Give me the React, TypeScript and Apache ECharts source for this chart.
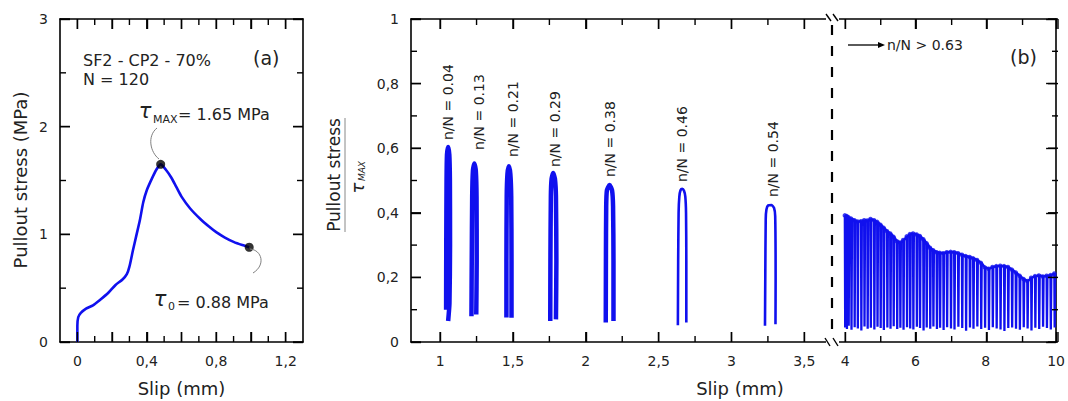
import { useEffect, useRef } from 'react';
import * as echarts from 'echarts';

const BLUE = '#1010ee';
const FONT = 'DejaVu Sans';
const INK = '#222';

// ---------- Panel (a): monotonic pull-out curve ----------
const monoSlip = [0, 0, 0.005, 0.02, 0.05, 0.09, 0.13, 0.18, 0.22, 0.26, 0.285, 0.3, 0.32, 0.34, 0.36, 0.38, 0.4, 0.43, 0.455, 0.48, 0.51, 0.54, 0.57, 0.6, 0.65, 0.71, 0.76, 0.8, 0.85, 0.9, 0.95, 0.99];
const monoStress = [0, 0.15, 0.23, 0.27, 0.31, 0.34, 0.39, 0.46, 0.53, 0.58, 0.63, 0.7, 0.85, 0.99, 1.13, 1.3, 1.41, 1.52, 1.6, 1.65, 1.6, 1.53, 1.44, 1.35, 1.24, 1.14, 1.07, 1.02, 0.97, 0.93, 0.9, 0.88];
const tauMaxPoint = [0.48, 1.65];
const tauZeroPoint = [0.99, 0.88];

const aSlipTicks = [0, 0.2, 0.4, 0.6, 0.8, 1.0, 1.2];
const aSlipMinorTicks = [0.1, 0.3, 0.5, 0.7, 0.9, 1.1];
const aSlipLabels = [0, 0.4, 0.8, 1.2];
const aStressTicks = [0, 1, 2, 3];
const aStressMinorTicks = [0.5, 1.5, 2.5];

// ---------- Panel (b): cyclic loops, stress / tau_max ----------
const loopLabels = ['n/N = 0.04', 'n/N = 0.13', 'n/N = 0.21', 'n/N = 0.29', 'n/N = 0.38', 'n/N = 0.46', 'n/N = 0.54'];
const loop004 = [[1.041, 0.1], [1.042, 0.3], [1.044, 0.5], [1.047, 0.58], [1.055, 0.604], [1.063, 0.58], [1.067, 0.5], [1.068, 0.3], [1.064, 0.12], [1.055, 0.065]];
const loop013 = [[1.215, 0.08], [1.217, 0.25], [1.22, 0.45], [1.225, 0.53], [1.235, 0.553], [1.245, 0.53], [1.25, 0.45], [1.251, 0.25], [1.248, 0.085]];
const loop021 = [[1.455, 0.076], [1.455, 0.25], [1.457, 0.45], [1.462, 0.52], [1.472, 0.544], [1.482, 0.52], [1.488, 0.45], [1.49, 0.25], [1.49, 0.075]];
const loop029 = [[1.756, 0.065], [1.757, 0.25], [1.76, 0.45], [1.765, 0.505], [1.776, 0.523], [1.788, 0.505], [1.795, 0.45], [1.798, 0.25], [1.795, 0.07]];
const loop038 = [[2.137, 0.06], [2.138, 0.25], [2.14, 0.42], [2.145, 0.47], [2.163, 0.486], [2.18, 0.47], [2.187, 0.42], [2.19, 0.25], [2.19, 0.065]];
const loop046 = [[2.632, 0.052], [2.634, 0.25], [2.637, 0.4], [2.642, 0.45], [2.65, 0.47], [2.662, 0.474], [2.674, 0.468], [2.683, 0.45], [2.688, 0.4], [2.69, 0.25], [2.69, 0.06]];
const loop054 = [[3.23, 0.05], [3.232, 0.2], [3.235, 0.38], [3.24, 0.41], [3.252, 0.423], [3.275, 0.424], [3.292, 0.415], [3.3, 0.39], [3.303, 0.2], [3.302, 0.055]];
const loops = [loop004, loop013, loop021, loop029, loop038, loop046, loop054];

// cycles after n/N > 0.63: slip at each unloading, envelope peak, trough
const lateSlip = [
  3.99, 4.04, 4.09, 4.17, 4.26, 4.35, 4.45, 4.54, 4.63, 4.72,
  4.82, 4.91, 5.0, 5.09, 5.19, 5.28, 5.37, 5.47, 5.56, 5.65,
  5.75, 5.84, 5.93, 6.03, 6.12, 6.22, 6.31, 6.41, 6.5, 6.6,
  6.69, 6.79, 6.89, 7.0, 7.1, 7.21, 7.32, 7.43, 7.54, 7.64,
  7.75, 7.86, 7.97, 8.08, 8.19, 8.3, 8.41, 8.52, 8.63, 8.74,
  8.85, 8.96, 9.07, 9.18, 9.29, 9.4, 9.51, 9.62, 9.73, 9.84,
  9.95,
];
const latePeak = [
  0.392, 0.39, 0.386, 0.382, 0.377, 0.373, 0.374, 0.377, 0.376, 0.381,
  0.377, 0.372, 0.363, 0.354, 0.343, 0.336, 0.326, 0.312, 0.308, 0.316,
  0.327, 0.334, 0.336, 0.333, 0.328, 0.318, 0.306, 0.292, 0.284, 0.278,
  0.276, 0.275, 0.278, 0.279, 0.278, 0.275, 0.27, 0.266, 0.263, 0.259,
  0.254, 0.245, 0.231, 0.227, 0.232, 0.235, 0.236, 0.235, 0.232, 0.224,
  0.215, 0.205, 0.195, 0.189, 0.199, 0.204, 0.206, 0.203, 0.205, 0.207,
  0.212,
];
const lateTrough = [
  0.045, 0.04, 0.05, 0.038, 0.046, 0.042, 0.036, 0.048, 0.041, 0.044,
  0.039, 0.047, 0.043, 0.037, 0.045, 0.041, 0.049, 0.04, 0.044, 0.038,
  0.046, 0.042, 0.039, 0.047, 0.043, 0.036, 0.045, 0.041, 0.048, 0.04,
  0.044, 0.037, 0.046, 0.042, 0.039, 0.047, 0.043, 0.035, 0.045, 0.041,
  0.048, 0.04, 0.044, 0.037, 0.046, 0.042, 0.039, 0.034, 0.043, 0.045,
  0.041, 0.038, 0.046, 0.042, 0.036, 0.044, 0.04, 0.047, 0.043, 0.039,
  0.045,
];

const bSlipTicks = [1, 1.5, 2, 2.5, 3, 3.5];
const bSlipMinorTicks = [1.25, 1.75, 2.25, 2.75, 3.25];
const cSlipTicks = [4, 6, 8, 10];
const cSlipMinorTicks = [5, 7, 9];
const bRatioTicks = [0, 0.2, 0.4, 0.6, 0.8, 1];
const bRatioMinorTicks = [0.1, 0.3, 0.5, 0.7, 0.9];

const fmt = (v: number) => String(Math.round(v * 100) / 100).replace('.', ',');

const AXIS_LINE = { show: true, onZero: false, lineStyle: { color: '#000', width: 1.6 } };
const TICK_STYLE = { color: '#000', width: 1.4 };
const labelStyle = { color: INK, fontFamily: FONT, fontSize: 14 };
const MAJOR = 10;
const MINOR = 6;

// grid boxes and axis ranges of the three plotting areas
const panelA = { left: 60, top: 19, width: 243, height: 323, xMin: -0.1, xMax: 1.3, yMax: 3 };
const panelB = { left: 411, top: 19, width: 421, height: 323, xMin: 0.8, xMax: 3.69, yMax: 1 };
const panelC = { left: 832, top: 19, width: 226, height: 323, xMin: 3.625, xMax: 10, yMax: 1 };

function xAxisFor(gridIndex: number, position: string, p: any, ticks: number[], labels: number[] | null) {
  return {
    type: 'value', gridIndex, position, min: p.xMin, max: p.xMax,
    splitLine: { show: false }, axisLine: AXIS_LINE,
    axisTick: { show: true, inside: true, length: MAJOR, customValues: ticks, lineStyle: TICK_STYLE },
    minorTick: { show: false },
    axisLabel: labels
      ? { show: true, customValues: labels, formatter: fmt, margin: 12, ...labelStyle }
      : { show: false },
  };
}

function yAxisFor(gridIndex: number, position: string, withLabels: boolean, p: any, ticks: number[]) {
  return {
    type: 'value', gridIndex, position, min: 0, max: p.yMax,
    splitLine: { show: false }, axisLine: AXIS_LINE,
    axisTick: { show: true, inside: true, length: MAJOR, customValues: ticks, lineStyle: TICK_STYLE },
    minorTick: { show: false },
    axisLabel: withLabels
      ? { show: true, customValues: ticks, formatter: fmt, margin: 12, ...labelStyle }
      : { show: false },
  };
}

const seg = (x1: number, y1: number, x2: number, y2: number) => ({
  type: 'line', z: 120, silent: true, shape: { x1, y1, x2, y2 }, style: { stroke: '#000', lineWidth: 1.4 },
});

// inward tick marks along the frame of one panel (linear value axes)
function frameTicks(p: any, xs: number[], ys: number[], len: number, left: boolean, right: boolean) {
  const out: any[] = [];
  const bottom = p.top + p.height;
  xs.forEach((v) => {
    const x = p.left + ((v - p.xMin) / (p.xMax - p.xMin)) * p.width;
    out.push(seg(x, bottom, x, bottom - len));
    out.push(seg(x, p.top, x, p.top + len));
  });
  ys.forEach((v) => {
    const y = bottom - (v / p.yMax) * p.height;
    if (left) out.push(seg(p.left, y, p.left + len, y));
    if (right) out.push(seg(p.left + p.width, y, p.left + p.width - len, y));
  });
  return out;
}

function txt(x: number, y: number, text: string, size: number, extra: any = {}) {
  const align = extra.align || 'left';
  return {
    type: 'text', x, y, z: 100, rotation: extra.rotation || 0,
    style: {
      text, fill: extra.fill || INK, fontFamily: FONT, fontSize: size,
      fontStyle: extra.italic ? 'italic' : 'normal',
      align, textAlign: align, verticalAlign: 'middle', textVerticalAlign: 'middle',
    },
  };
}

export default function App() {
  const ref = useRef<HTMLDivElement>(null);

  useEffect(() => {
    if (!ref.current) return;
    const chart = echarts.init(ref.current, null, { renderer: 'svg' });

    const lateData: number[][] = [];
    lateSlip.forEach((s, i) => {
      lateData.push([s, latePeak[i]]);
      lateData.push([s + 0.01, lateTrough[i]]);
      lateData.push([s + 0.024, latePeak[i]]);
    });

    const loopSeries = loops.map((pts, i) => ({
      type: 'line', name: loopLabels[i], xAxisIndex: 2, yAxisIndex: 2,
      data: pts, showSymbol: false, smooth: 0.2,
      lineStyle: { color: BLUE, width: i < 5 ? 4.5 : 2.6 },
      itemStyle: { color: BLUE },
    }));

    const PI2 = Math.PI / 2;
    const labelAnchors = [[448, 140], [479, 150], [513, 157], [555, 167], [610, 177], [682, 182], [773, 197]];

    const ticks = [
      ...frameTicks(panelA, aSlipTicks, aStressTicks, MAJOR, true, true),
      ...frameTicks(panelA, aSlipMinorTicks, aStressMinorTicks, MINOR, true, true),
      ...frameTicks(panelB, bSlipTicks, bRatioTicks, MAJOR, true, false),
      ...frameTicks(panelB, bSlipMinorTicks, bRatioMinorTicks, MINOR, true, false),
      ...frameTicks(panelC, cSlipTicks, bRatioTicks, MAJOR, false, true),
      ...frameTicks(panelC, cSlipMinorTicks, bRatioMinorTicks, MINOR, false, true),
    ];

    const graphic: any[] = [
      // axis titles
      txt(20, 180, 'Pullout stress (MPa)', 18, { rotation: PI2, align: 'center' }),
      txt(181.5, 388, 'Slip (mm)', 18, { align: 'center' }),
      txt(740, 388, 'Slip (mm)', 18, { align: 'center' }),
      txt(334, 175, 'Pullout stress', 17, { rotation: PI2, align: 'center' }),
      { type: 'line', z: 100, shape: { x1: 345, y1: 118, x2: 345, y2: 232 }, style: { stroke: '#888', lineWidth: 1 } },
      txt(357, 188, 'τ', 18, { rotation: PI2, align: 'center', italic: true }),
      txt(362, 171, 'MAX', 9, { rotation: PI2, align: 'center', italic: true }),

      // panel (a) notes
      txt(83, 60, 'SF2 - CP2 - 70%', 16),
      txt(83, 79, 'N = 120', 16),
      txt(253, 58, '(a)', 19),
      txt(145, 111, 'τ', 21, { align: 'center', italic: true }),
      txt(153, 119, 'MAX', 11),
      txt(178, 114, '= 1.65 MPa', 16),
      txt(160, 299, 'τ', 21, { align: 'center', italic: true }),
      txt(168, 306, '0', 11),
      txt(177, 302, '= 0.88 MPa', 16),
      { type: 'bezierCurve', z: 100, shape: { x1: 157, y1: 128, cpx1: 147, cpy1: 136, cpx2: 150, cpy2: 152, x2: 159, y2: 159 }, style: { stroke: '#808080', lineWidth: 1, fill: 'none' } },
      { type: 'bezierCurve', z: 100, shape: { x1: 250, y1: 249, cpx1: 262, cpy1: 250, cpx2: 266, cpy2: 265, x2: 253, y2: 273 }, style: { stroke: '#808080', lineWidth: 1, fill: 'none' } },

      // panel (b) notes
      txt(1010, 57, '(b)', 19),
      { type: 'line', z: 100, shape: { x1: 848, y1: 45, x2: 879, y2: 45 }, style: { stroke: '#000', lineWidth: 1.3 } },
      { type: 'polygon', z: 100, shape: { points: [[878, 42], [885, 45], [878, 48]] }, style: { fill: '#000' } },
      txt(887, 45, 'n/N > 0.63', 14),
      ...loopLabels.map((t, i) => txt(labelAnchors[i][0], labelAnchors[i][1], t, 14, { rotation: PI2 })),

      // scale break between the two slip ranges
      { type: 'rect', z: 110, shape: { x: 826, y: 10, width: 13, height: 14 }, style: { fill: '#fff' } },
      { type: 'rect', z: 110, shape: { x: 826, y: 334, width: 13, height: 14 }, style: { fill: '#fff' } },
      { type: 'line', z: 111, shape: { x1: 826, y1: 14, x2: 831, y2: 21 }, style: { stroke: '#000', lineWidth: 1.4 } },
      { type: 'line', z: 111, shape: { x1: 833, y1: 14, x2: 838, y2: 21 }, style: { stroke: '#000', lineWidth: 1.4 } },
      { type: 'line', z: 111, shape: { x1: 825, y1: 338, x2: 830, y2: 346 }, style: { stroke: '#000', lineWidth: 1.4 } },
      { type: 'line', z: 111, shape: { x1: 833, y1: 338, x2: 838, y2: 346 }, style: { stroke: '#000', lineWidth: 1.4 } },
      { type: 'line', z: 111, shape: { x1: 832, y1: 25, x2: 832, y2: 333 }, style: { stroke: '#000', lineWidth: 2.2, lineDash: [10, 11] } },

      ...ticks,
    ];

    const box = (p: any) => ({ left: p.left, top: p.top, width: p.width, height: p.height });

    chart.setOption({
      animation: false,
      backgroundColor: '#fff',
      textStyle: { fontFamily: FONT },
      grid: [box(panelA), box(panelB), box(panelC)],
      xAxis: [
        xAxisFor(0, 'bottom', panelA, aSlipTicks, aSlipLabels),
        xAxisFor(0, 'top', panelA, aSlipTicks, null),
        xAxisFor(1, 'bottom', panelB, bSlipTicks, bSlipTicks),
        xAxisFor(1, 'top', panelB, bSlipTicks, null),
        xAxisFor(2, 'bottom', panelC, cSlipTicks, cSlipTicks),
        xAxisFor(2, 'top', panelC, cSlipTicks, null),
      ],
      yAxis: [
        yAxisFor(0, 'left', true, panelA, aStressTicks),
        yAxisFor(0, 'right', false, panelA, aStressTicks),
        yAxisFor(1, 'left', true, panelB, bRatioTicks),
        yAxisFor(2, 'right', false, panelC, bRatioTicks),
      ],
      series: [
        {
          type: 'line', name: 'monotonic', xAxisIndex: 0, yAxisIndex: 0,
          data: monoSlip.map((s, i) => [s, monoStress[i]]),
          showSymbol: false, smooth: 0.25,
          lineStyle: { color: BLUE, width: 2.6 }, itemStyle: { color: BLUE },
        },
        {
          type: 'scatter', name: 'tau', xAxisIndex: 0, yAxisIndex: 0, z: 5,
          data: [tauMaxPoint, tauZeroPoint], symbolSize: 9, itemStyle: { color: '#000' },
        },
        ...loopSeries,
        {
          type: 'line', name: 'n/N > 0.63', xAxisIndex: 4, yAxisIndex: 3,
          data: lateData, showSymbol: false,
          lineStyle: { color: BLUE, width: 2.3 }, itemStyle: { color: BLUE },
        },
        {
          type: 'scatter', name: 'envelope', xAxisIndex: 4, yAxisIndex: 3,
          data: lateSlip.map((s, i) => [s, latePeak[i]]), symbolSize: 4.5,
          itemStyle: { color: BLUE },
        },
      ],
      graphic,
    });

    return () => chart.dispose();
  }, []);

  return (
    <div
      ref={ref}
      style={{ position: 'absolute', left: 0, top: 0, width: 1068, height: 401, background: '#fff' }}
    />
  );
}
